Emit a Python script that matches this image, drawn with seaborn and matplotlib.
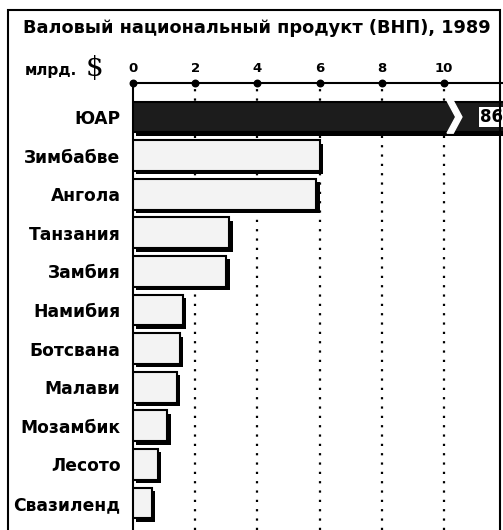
import matplotlib
matplotlib.use("Agg")
import matplotlib.pyplot as plt
import matplotlib.patheffects as pe
from matplotlib.patches import Polygon, Rectangle
import seaborn as sns

# данные (млрд. $), 1989
countries = ["ЮАР", "Зимбабве", "Ангола", "Танзания", "Замбия", "Намибия",
             "Ботсвана", "Малави", "Мозамбик", "Лесото", "Свазиленд"]
gnp = [86, 6.0, 5.9, 3.1, 3.0, 1.6, 1.5, 1.4, 1.1, 0.8, 0.6]
ticks = [0, 2, 4, 6, 8, 10]
colors = ["#1c1c1c"] + ["#f3f3f3"] * (len(countries) - 1)

sns.set_style("white")
plt.rcParams["font.family"] = ["DejaVu Sans"]
plt.rcParams["text.color"] = "black"
plt.rcParams["xtick.color"] = "black"
plt.rcParams["ytick.color"] = "black"

fig = plt.figure(figsize=(5.03, 5.30), dpi=100)
ax = fig.add_axes([133 / 503, 0, 1 - 133 / 503, 1 - 83 / 530])

sns.barplot(x=gnp, y=countries, hue=countries, palette=colors, legend=False,
            orient="h", width=0.8, edgecolor="black", linewidth=1.5, ax=ax, zorder=3)

# тень у столбиков
for p in ax.patches:
    p.set_path_effects([pe.SimplePatchShadow(offset=(2.5, -2.5), shadow_rgbFace="black", alpha=1.0),
                        pe.Normal()])

ax.set_xlim(0, 11.9)
ax.set_ylim(10.7, -0.88)

# пунктирная сетка
for t in ticks[1:]:
    ax.axvline(t, color="black", ls=(0, (1, 3.2)), lw=1.6, zorder=1)

# ось сверху
ax.xaxis.tick_top()
ax.set_xticks(ticks)
ax.set_xticklabels([str(t) for t in ticks], fontsize=9.5, fontweight="bold")
ax.tick_params(axis="x", length=0, pad=6, colors="black")
ax.tick_params(axis="y", length=0, pad=9, colors="black")
for lab in ax.get_yticklabels():
    lab.set_fontweight("bold")
    lab.set_fontsize(12.3)
ax.set_xlabel("")
ax.set_ylabel("")
ax.scatter(ticks, [1] * len(ticks), transform=ax.get_xaxis_transform(), s=22,
           color="black", clip_on=False, zorder=5)

for s in ["bottom", "right"]:
    ax.spines[s].set_visible(False)
ax.spines["top"].set_linewidth(1.5)
ax.spines["left"].set_linewidth(1.5)
ax.spines["top"].set_color("black")
ax.spines["left"].set_color("black")

# разрыв у столбика ЮАР
y0, y1 = -0.42, 0.42
x0, w, g = 10.1, 0.28, 0.2
ax.add_patch(Polygon([(x0, y0), (x0 + w, 0), (x0, y1), (x0 + g, y1), (x0 + w + g, 0), (x0 + g, y0)],
                     closed=True, facecolor="white", edgecolor="white", zorder=6))
ax.text(11.9, 0, str(gnp[0]), ha="right", va="center", fontsize=12, fontweight="bold",
        bbox=dict(facecolor="white", edgecolor="none", pad=0.8), zorder=7)

fig.text(0.51, 1 - 28 / 530, "Валовый национальный продукт (ВНП), 1989",
         ha="center", va="center", fontsize=12.8, fontweight="bold")
fig.text(25 / 503, 1 - 70 / 530, "млрд.", ha="left", va="center", fontsize=11, fontweight="bold")
fig.text(86 / 503, 1 - 68 / 530, "$", ha="left", va="center", fontsize=20, family="DejaVu Serif")

fig.add_artist(Rectangle((8 / 503, -0.05), 0.994 - 8 / 503, 0.981 + 0.05, transform=fig.transFigure,
                         fill=False, edgecolor="black", lw=1.5, zorder=10))

fig.savefig("out.png", dpi=100)
